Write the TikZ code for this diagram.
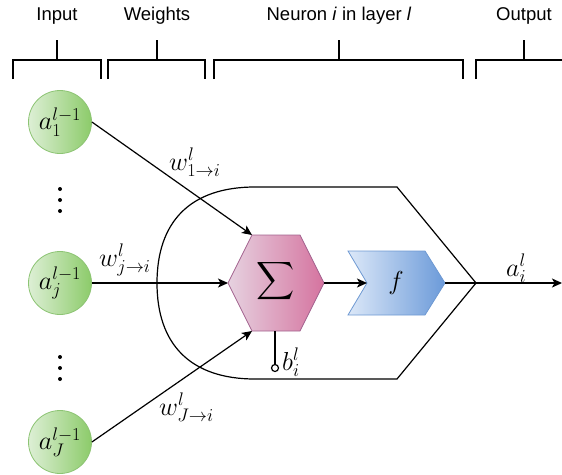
\documentclass[tikz,border=0pt]{standalone}
\usepackage{fix-cm}
\usepackage{fontspec}
\setsansfont{Liberation Sans}
\usetikzlibrary{arrows.meta}

\definecolor{inL}{HTML}{DDEFD5}
\definecolor{inR}{HTML}{8CCB6A}
\definecolor{inB}{HTML}{8DC474}
\definecolor{sumL}{HTML}{E6D2E0}
\definecolor{sumR}{HTML}{D5739F}
\definecolor{sumB}{HTML}{A2628E}
\definecolor{actL}{HTML}{DCE8F8}
\definecolor{actR}{HTML}{6B9AD9}
\definecolor{actB}{HTML}{6E99D2}

\newcommand{\mathfont}{\fontsize{26}{30}\selectfont}
\tikzset{
  neuroninput/.style={circle, minimum size=63pt, inner sep=0pt, draw=inB,
    line width=0.8pt, left color=inL, right color=inR, font=\mathfont},
  conn/.style={line width=1.2pt, -{Stealth[length=10pt, width=9pt, inset=2.5pt]}},
  plain/.style={line width=1.2pt},
  brace/.style={line width=1.4pt},
  header/.style={font=\fontsize{18.5}{20}\selectfont\sffamily, inner sep=0pt},
  mlabel/.style={font=\mathfont, inner sep=0pt},
}

\begin{document}
\begin{tikzpicture}[x=1pt, y=-1pt]
  \useasboundingbox (0,0) rectangle (562,474);

  % column headers and their brackets
  \node[header] (hIn)  at (57,16)  {Input};
  \node[header] (hW)   at (157,16) {Weights};
  \node[header] (hN)   at (339,16) {Neuron \textit{i} in layer \textit{l}};
  \node[header] (hOut) at (524,16) {Output};
  \draw[brace] (13,79) -- (13,60) -- (101,60) -- (101,79)  (57,60) -- (57,40);
  \draw[brace] (108,79) -- (108,60) -- (205,60) -- (205,79) (157,60) -- (157,40);
  \draw[brace] (214,79) -- (214,60) -- (463,60) -- (463,79) (339,60) -- (339,40);
  \draw[brace] (476,79) -- (476,60) -- (562,60)            (524,60) -- (524,40);

  % envelope of the neuron
  \draw[plain, line join=miter]
    (255,187) -- (397,187) -- (476,283) -- (397,379) -- (255,379)
    .. controls (190,379) and (157,344) .. (157,283)
    .. controls (157,222) and (190,187) .. (255,187) -- cycle;

  % inputs
  \node[neuroninput] (a1) at (60,122) {$a_1^{l-1}$};
  \node[neuroninput] (aj) at (60,283) {$a_j^{l-1}$};
  \node[neuroninput] (aJ) at (60,442) {$a_J^{l-1}$};
  \foreach \y in {189,200,211,357,368,379}
    \fill (60,\y) circle (2pt);

  % summation hexagon
  \coordinate (sW)  at (228,283);
  \coordinate (sNW) at (252,235);
  \coordinate (sNE) at (300,235);
  \coordinate (sE)  at (324,283);
  \coordinate (sSE) at (300,331);
  \coordinate (sSW) at (252,331);
  \coordinate (sS)  at (275,331);
  \path[draw=sumB, line width=0.8pt, left color=sumL, right color=sumR, line join=miter]
    (sW) -- (sNW) -- (sNE) -- (sE) -- (sSE) -- (sSW) -- cycle;
  \node[inner sep=0pt] (sum) at (276,281) {\scalebox{2.65}{$\displaystyle\sum$}};

  % activation chevron
  \coordinate (fW) at (367,283);
  \coordinate (fE) at (445,283);
  \path[draw=actB, line width=0.8pt, left color=actL, right color=actR, line join=miter]
    (348,251) -- (425,251) -- (fE) -- (425,315) -- (348,315) -- (fW) -- cycle;
  \node[mlabel] (f) at (396,283) {$f$};

  % bias
  \node[circle, draw, line width=1.2pt, fill=white, minimum size=7pt, inner sep=0pt] (bias) at (275,368) {};
  \draw[plain] (sS) -- (bias);
  \node[mlabel, anchor=base west] (bl) at (282,370) {$b_i^l$};

  % weighted connections
  \draw[conn] (a1.east) -- (sNW);
  \draw[conn] (aj.east) -- (sW);
  \draw[conn] (aJ.east) -- (sSW);
  \node[mlabel, anchor=base west] (w1) at (169,170) {$w_{1\to i}^l$};
  \node[mlabel, anchor=base west] (wj) at (99,266)  {$w_{j\to i}^l$};
  \node[mlabel, anchor=base west] (wJ) at (159,415) {$w_{J\to i}^l$};

  % inside the neuron and output
  \coordinate (tip) at (476,283);
  \coordinate (out) at (562,283);
  \draw[conn] (sE) -- (fW);
  \draw[plain] (fE) -- (tip);
  \draw[conn] (tip) -- (out);
  \node[mlabel, anchor=base west] (ai) at (506,276) {$a_i^l$};
\end{tikzpicture}
\end{document}
